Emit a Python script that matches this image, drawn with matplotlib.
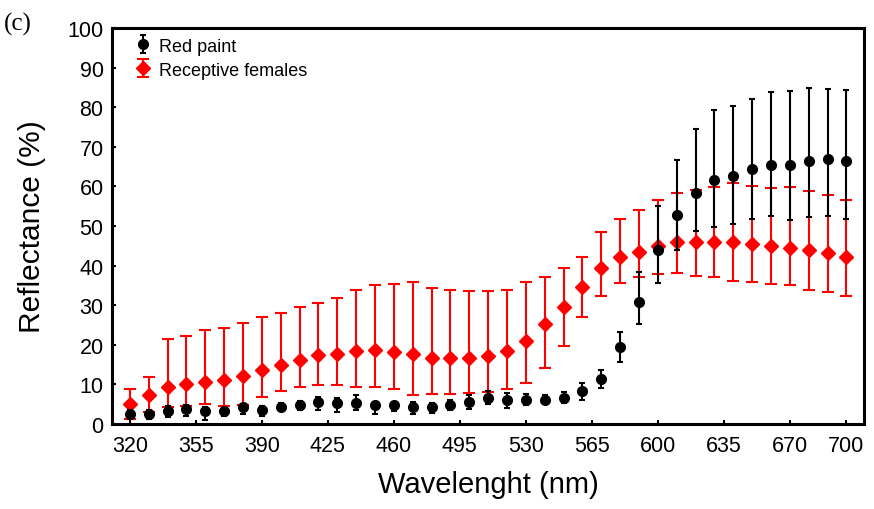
#!/usr/bin/env python3
"""
Reflectance spectra of red paint vs. receptive females (panel c).
Mean with lower/upper bounds read per 10 nm step.
"""

import matplotlib
matplotlib.use("Agg")
import matplotlib.pyplot as plt


OUTPUT_PNG = "out.png"

WAVELENGTH = [
    320, 330, 340, 350, 360, 370, 380, 390, 400, 410,
    420, 430, 440, 450, 460, 470, 480, 490, 500, 510,
    520, 530, 540, 550, 560, 570, 580, 590, 600, 610,
    620, 630, 640, 650, 660, 670, 680, 690, 700,
]

# Red paint
PAINT_MEAN = [
    2.4, 2.4, 3.3, 3.7, 3.2, 3.2, 4.2, 3.6, 4.2, 4.7,
    5.6, 5.2, 5.3, 4.8, 4.8, 4.2, 4.2, 4.8, 5.6, 6.6,
    6.1, 6.1, 6.1, 6.6, 8.4, 11.4, 19.3, 30.7, 43.8, 52.7,
    58.4, 61.6, 62.6, 64.5, 65.4, 65.4, 66.4, 66.8, 66.3,
]
PAINT_LOW = [
    1.2, 1.2, 1.8, 1.9, 1.0, 2.1, 2.4, 2.1, 3.2, 3.4,
    3.4, 3.1, 3.4, 2.4, 3.3, 2.4, 2.8, 3.4, 3.8, 4.9,
    4.0, 4.8, 5.2, 5.3, 5.9, 9.1, 15.6, 25.3, 35.5, 43.8,
    48.7, 49.7, 50.5, 51.8, 52.4, 51.5, 52.2, 52.6, 51.8,
]
PAINT_HIGH = [
    3.6, 3.6, 4.4, 4.8, 4.2, 4.0, 5.1, 4.6, 5.2, 5.7,
    6.9, 6.5, 7.2, 5.6, 5.6, 5.6, 5.3, 5.9, 7.2, 8.4,
    7.9, 7.6, 7.4, 8.0, 10.4, 13.5, 23.2, 38.3, 55.0, 66.6,
    74.4, 79.2, 80.2, 82.1, 83.8, 84.1, 84.9, 84.6, 84.4,
]

# Receptive females
FEMALE_MEAN = [
    5.0, 7.3, 9.2, 10.1, 10.6, 11.1, 12.0, 13.5, 14.9, 16.2,
    17.3, 17.6, 18.5, 18.6, 18.1, 17.6, 16.7, 16.7, 16.7, 17.2,
    18.5, 20.9, 25.2, 29.4, 34.6, 39.3, 42.1, 43.5, 44.9, 46.0,
    46.0, 46.0, 46.0, 45.5, 44.9, 44.4, 44.0, 43.1, 42.1,
]
FEMALE_LOW = [
    1.3, 3.0, 4.2, 4.6, 5.1, 4.6, 4.8, 6.9, 8.3, 9.3,
    9.7, 9.8, 9.4, 9.2, 8.7, 7.4, 7.6, 7.5, 7.8, 8.0,
    8.7, 10.4, 14.1, 19.6, 26.9, 32.4, 35.7, 37.2, 37.9, 38.0,
    37.4, 37.0, 36.0, 35.8, 35.4, 35.1, 33.9, 33.3, 32.3,
]
FEMALE_HIGH = [
    8.7, 11.8, 21.4, 22.3, 23.7, 24.3, 25.6, 26.9, 27.9, 29.6,
    30.6, 31.8, 33.7, 35.1, 35.4, 35.8, 34.3, 33.8, 33.6, 33.6,
    33.8, 35.9, 37.2, 39.4, 42.1, 48.4, 51.8, 54.1, 56.5, 58.2,
    59.2, 59.9, 60.9, 60.2, 59.7, 59.9, 58.9, 57.8, 56.6,
]

X_TICKS = [320, 355, 390, 425, 460, 495, 530, 565, 600, 635, 670, 700]
Y_TICKS = [0, 10, 20, 30, 40, 50, 60, 70, 80, 90, 100]

NARROW = ["Liberation Sans Narrow", "DejaVu Sans Condensed", "Liberation Sans"]
REGULAR = ["Liberation Sans", "DejaVu Sans"]


def err_bounds(mean, low, high):
    lower = [m - lo for m, lo in zip(mean, low)]
    upper = [hi - m for m, hi in zip(mean, high)]
    return [lower, upper]


def main():
    fig = plt.figure(figsize=(8.74, 5.10), dpi=100)
    ax = fig.add_axes([0.128, 0.167, 0.861, 0.776])

    females = ax.errorbar(
        WAVELENGTH,
        FEMALE_MEAN,
        yerr=err_bounds(FEMALE_MEAN, FEMALE_LOW, FEMALE_HIGH),
        fmt="D",
        color="#ff0000",
        ecolor="#ff0000",
        markersize=7,
        elinewidth=1.5,
        capsize=4.5,
        capthick=1.5,
        zorder=2,
    )

    paint = ax.errorbar(
        WAVELENGTH,
        PAINT_MEAN,
        yerr=err_bounds(PAINT_MEAN, PAINT_LOW, PAINT_HIGH),
        fmt="o",
        color="black",
        ecolor="black",
        markersize=7,
        elinewidth=1.5,
        capsize=2.5,
        capthick=1.5,
        zorder=3,
    )

    ax.set_xlim(310.5, 709.5)
    ax.set_ylim(0, 100)
    ax.set_xticks(X_TICKS)
    ax.set_yticks(Y_TICKS)

    ax.tick_params(direction="in", length=3, width=1.5, top=False, right=False)
    ax.tick_params(axis="x", pad=8)
    ax.tick_params(axis="y", pad=6)
    for label in ax.get_xticklabels():
        label.set_family(NARROW)
        label.set_fontsize(15.5)
    for label in ax.get_yticklabels():
        label.set_family(REGULAR)
        label.set_fontsize(15.5)

    for spine in ax.spines.values():
        spine.set_linewidth(2.2)

    ax.set_xlabel("Wavelenght (nm)", family=NARROW, fontsize=21, labelpad=10)
    ax.set_ylabel("Reflectance (%)", family=REGULAR, fontsize=21.5)
    ax.yaxis.set_label_coords(-0.088, 0.5)

    ax.legend(
        [paint, females],
        ["Red paint", "Receptive females"],
        loc="upper left",
        bbox_to_anchor=(0.008, 1.02),
        frameon=False,
        prop={"family": REGULAR, "size": 13},
        handlelength=1.0,
        handleheight=1.0,
        handletextpad=0.35,
        labelspacing=0.35,
    )

    fig.text(0.005, 0.975, "(c)", family=["Liberation Serif", "DejaVu Serif"],
             fontsize=18, va="top", ha="left")

    fig.savefig(OUTPUT_PNG, dpi=100)
    plt.close(fig)


if __name__ == "__main__":
    main()
